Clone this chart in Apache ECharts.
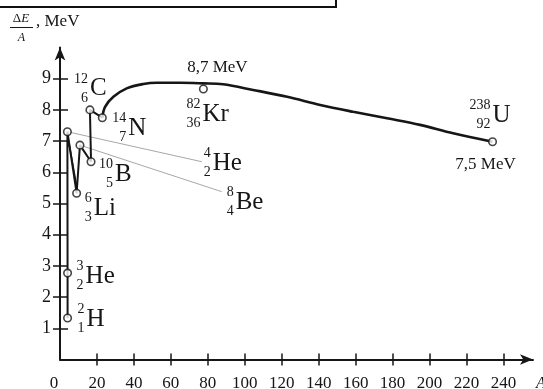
<!DOCTYPE html>
<html>
<head>
<meta charset="utf-8">
<script src="https://cdn.jsdelivr.net/npm/echarts@6/dist/echarts.min.js"></script>
<style>
html,body{margin:0;padding:0;background:#fff;}
#chart{width:543px;height:389px;}
</style>
</head>
<body>
<div id="chart"></div>
<script>
// ---------- data ----------
// tick labels
const xTickLabels = [0, 20, 40, 60, 80, 100, 120, 140, 160, 180, 200, 220, 240];
const xTickMarks = [20, 40, 60, 80, 100, 120, 140, 160, 180, 200, 220, 240];
const yTickLabels = [1, 2, 3, 4, 5, 6, 7, 8, 9];

// light nuclei polyline (drawing order)
const lightA = [4.1, 4.1, 4.0, 9.0, 10.8, 16.8, 16.2, 22.9];
const lightE = [1.33, 2.77, 7.30, 5.33, 6.87, 6.34, 8.00, 7.75];

// second (hand-drawn) stroke of the He-4 -> Li-6 dip
const dipA = [4.6, 9.3];
const dipE = [7.02, 5.45];

// smooth curve N -> U
const curveA = [22.9, 24.4, 28.9, 36.1, 45.1, 52.4, 65.0, 77.4, 88.2, 104.5, 122.9, 140.8, 158.6, 177.0, 194.9, 212.8, 234.1];
const curveE = [7.75, 8.10, 8.42, 8.69, 8.83, 8.87, 8.87, 8.85, 8.82, 8.64, 8.42, 8.16, 7.94, 7.73, 7.52, 7.25, 6.98];

// marked nuclides (open circles)
const pointA = [4.1, 4.1, 4.0, 9.0, 10.8, 16.8, 16.2, 22.9, 77.6, 234.1];
const pointE = [1.33, 2.77, 7.30, 5.33, 6.87, 6.34, 8.00, 7.75, 8.67, 6.98];

// leader lines
const leaderHeA = [4.0, 76.7];
const leaderHeE = [7.30, 6.34];
const leaderBeA = [10.8, 87.5];
const leaderBeE = [6.87, 5.38];

// nuclide labels
const labelSym  = ['H', 'He', 'Li', 'B', 'C', 'N', 'He', 'Be', 'Kr', 'U'];
const labelMass = ['2', '3', '6', '10', '12', '14', '4', '8', '82', '238'];
const labelZ    = ['1', '2', '3', '5', '6', '7', '2', '4', '36', '92'];
const labelAnchorA = [4.1, 4.1, 9.0, 16.8, 16.2, 22.9, 76.7, 87.5, 77.6, 234.1];
const labelAnchorE = [1.33, 2.77, 5.33, 6.34, 8.00, 7.75, 6.34, 5.38, 8.67, 6.98];

// value notes
const noteText = ['8,7 MeV', '7,5 MeV'];
const noteA = [77.6, 234.1];
const noteE = [8.67, 6.98];

// ---------- layout (pixel offsets) ----------
const labelOffsets = [[18, 0], [17, 2], [16, 14], [23, 12], [-1, -22], [25, 10], [10, 1], [13, 10], [-2, 24], [-1, -27]];
const noteOffsets = [[14, -21], [-7, 23]];

const SERIF = '"Liberation Serif", "Times New Roman", serif';
const INK = '#161616';

function zip(a, b) { return a.map((v, i) => [v, b[i]]); }

const chart = echarts.init(document.getElementById('chart'));

const baseX = { type: 'value', min: 0, max: 256, interval: 20, splitLine: { show: false } };
const baseY = { type: 'value', min: 0, max: 10, interval: 1, splitLine: { show: false } };

chart.setOption({
  animation: false,
  backgroundColor: '#fff',
  grid: { left: 60, right: 10, top: 47.5, bottom: 29.5, containLabel: false, outerBoundsMode: 'none' },
  xAxis: [
    Object.assign({}, baseX, {
      position: 'bottom', offset: 0,
      axisLine: { onZero: false, lineStyle: { color: INK, width: 2 }, symbol: ['none', 'arrow'], symbolSize: [8, 13] },
      axisTick: { show: true, inside: false, length: 6, lineStyle: { color: INK, width: 1.5 }, customValues: xTickMarks },
      axisLabel: {
        margin: 16, color: INK, fontFamily: SERIF, fontSize: 17, customValues: xTickLabels,
        formatter: function (v) { return v === 0 ? '{z|0}' : String(v); },
        rich: { z: { fontFamily: SERIF, fontSize: 17, color: INK, padding: [0, 12, 0, 0] } }
      },
      name: 'A', nameLocation: 'end', nameGap: 0,
      nameTextStyle: { fontFamily: SERIF, fontStyle: 'italic', fontSize: 16, color: INK, align: 'left', verticalAlign: 'top', padding: [16, 0, 0, 3] }
    }),
    Object.assign({}, baseX, {
      position: 'bottom', offset: 0,
      axisLine: { show: false, onZero: false },
      axisTick: { show: true, inside: true, length: 6, lineStyle: { color: INK, width: 1.5 }, customValues: xTickMarks },
      axisLabel: { show: false }
    })
  ],
  yAxis: [
    Object.assign({}, baseY, {
      position: 'left', offset: 0,
      axisLine: { show: true, onZero: false, lineStyle: { color: INK, width: 2 }, symbol: ['none', 'arrow'], symbolSize: [8, 13] },
      axisTick: { show: true, inside: false, length: 7, lineStyle: { color: INK, width: 1.5 }, customValues: yTickLabels },
      axisLabel: { margin: 9, color: INK, fontFamily: SERIF, fontSize: 18, customValues: yTickLabels }
    }),
    Object.assign({}, baseY, {
      position: 'left', offset: 0,
      axisLine: { show: false, onZero: false },
      axisTick: { show: true, inside: true, length: 8, lineStyle: { color: INK, width: 1.5 }, customValues: yTickLabels },
      axisLabel: { show: false }
    })
  ],
  series: [
    {
      type: 'line', data: zip(leaderHeA, leaderHeE), symbol: 'none',
      lineStyle: { color: '#a8a8a8', width: 1 }, z: 1
    },
    {
      type: 'line', data: zip(leaderBeA, leaderBeE), symbol: 'none',
      lineStyle: { color: '#a8a8a8', width: 1 }, z: 1
    },
    {
      type: 'line', data: zip(lightA, lightE), symbol: 'none',
      lineStyle: { color: INK, width: 2 }, z: 2
    },
    {
      type: 'line', data: zip(dipA, dipE), symbol: 'none',
      lineStyle: { color: INK, width: 1.6 }, z: 2
    },
    {
      type: 'line', data: zip(curveA, curveE), symbol: 'none', smooth: 0.35,
      lineStyle: { color: INK, width: 2.6 }, z: 2
    },
    {
      type: 'scatter', data: zip(pointA, pointE), symbol: 'circle', symbolSize: 7.5,
      itemStyle: { color: '#fff', borderColor: INK, borderWidth: 1.6 }, z: 5
    },
    {
      type: 'custom', clip: false, z: 6,
      data: labelAnchorA.map((a, i) => [a, labelAnchorE[i], i]),
      renderItem: function (params, api) {
        const i = params.dataIndex;
        const p = api.coord([api.value(0), api.value(1)]);
        const off = labelOffsets[i];
        const jx = p[0] + off[0], jy = p[1] + off[1];
        const small = '14px ' + SERIF, big = '25px ' + SERIF;
        function t(x, y, text, font, align) {
          return { type: 'text', x: x, y: y,
            style: { text: text, font: font, fill: INK, align: align, textAlign: align, verticalAlign: 'middle', textVerticalAlign: 'middle' } };
        }
        return { type: 'group', children: [
          t(jx - 1, jy - 9, labelMass[i], small, 'right'),
          t(jx - 1, jy + 10, labelZ[i], small, 'right'),
          t(jx + 1, jy + 1, labelSym[i], big, 'left')
        ] };
      }
    },
    {
      type: 'custom', clip: false, z: 6,
      data: noteA.map((a, i) => [a, noteE[i], i]),
      renderItem: function (params, api) {
        const i = params.dataIndex;
        const p = api.coord([api.value(0), api.value(1)]);
        const off = noteOffsets[i];
        return { type: 'text', x: p[0] + off[0], y: p[1] + off[1],
          style: { text: noteText[i], font: '17px ' + SERIF, fill: INK, align: 'center', textAlign: 'center', verticalAlign: 'middle', textVerticalAlign: 'middle' } };
      }
    }
  ],
  graphic: [
    { type: 'polyline', shape: { points: [[0, 7], [336, 7], [336, 0]] }, style: { stroke: '#111', lineWidth: 2, fill: null } },
    { type: 'text', x: 21, y: 19, style: { text: '{d|Δ}{e|E}', rich: { d: { font: '13px ' + SERIF, fill: INK }, e: { font: 'italic 13px ' + SERIF, fill: INK } }, align: 'center', verticalAlign: 'middle', textAlign: 'center', textVerticalAlign: 'middle' } },
    { type: 'line', shape: { x1: 10, y1: 27.5, x2: 33, y2: 27.5 }, style: { stroke: INK, lineWidth: 1 } },
    { type: 'text', x: 21.5, y: 38, style: { text: 'A', font: 'italic 12px ' + SERIF, fill: INK, align: 'center', verticalAlign: 'middle', textAlign: 'center', textVerticalAlign: 'middle' } },
    { type: 'text', x: 36, y: 22, style: { text: ', MeV', font: '17px ' + SERIF, fill: INK, align: 'left', verticalAlign: 'middle', textAlign: 'left', textVerticalAlign: 'middle' } }
  ]
});
</script>
</body>
</html>
